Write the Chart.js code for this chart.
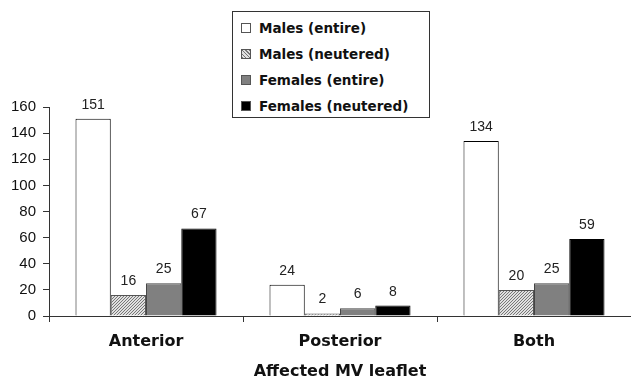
<!DOCTYPE html>
<html lang="en">
<head>
<meta charset="UTF-8">
<title>Affected MV leaflet</title>
<script src="https://cdn.jsdelivr.net/npm/chart.js"></script>
<style>
  * { box-sizing:border-box; margin:0; padding:0; }
  body { background:#fff; font-family:'DejaVu Sans', sans-serif; }
  #wrap { position:relative; width:631px; height:377px; }
  #legend {
    position:absolute; left:232px; top:11px; width:198px; height:107px;
    border:1px solid #333; background:#fff; padding:3px 0 0 8px;
    font-weight:bold; font-size:13.5px; color:#111;
  }
  #legend div { display:flex; align-items:center; height:26px; }
  #legend span.sw { width:10px; height:10px; margin-right:8px; border:1px solid #555; display:inline-block; }
</style>
</head>
<body>
<div id="wrap">
  <canvas id="chart" width="631" height="377"></canvas>
  <div id="legend"></div>
</div>
<script>
const categories = ['Anterior', 'Posterior', 'Both'];
const seriesNames = ['Males (entire)', 'Males (neutered)', 'Females (entire)', 'Females (neutered)'];
const malesEntire = [151, 24, 134];
const malesNeutered = [16, 2, 20];
const femalesEntire = [25, 6, 25];
const femalesNeutered = [67, 8, 59];
const yTicks = [0, 20, 40, 60, 80, 100, 120, 140, 160];

// fine hatched fill for the neutered males
function makeHatch() {
  const c = document.createElement('canvas');
  c.width = 3; c.height = 3;
  const g = c.getContext('2d');
  g.fillStyle = '#e0e0e0';
  g.fillRect(0, 0, 3, 3);
  g.fillStyle = '#777';
  g.fillRect(2, 0, 1, 1);
  g.fillRect(1, 1, 1, 1);
  g.fillRect(0, 2, 1, 1);
  return g.createPattern(c, 'repeat');
}
const hatch = makeHatch();

const fills = ['#ffffff', hatch, '#808080', '#000000'];
const borders = ['#000000', '#555555', '#444444', '#000000'];
const swatchCss = ['#fff', 'repeating-linear-gradient(45deg,#777 0 1px,#e0e0e0 1px 2.5px)', '#808080', '#000'];

const valueLabels = {
  id: 'valueLabels',
  afterDatasetsDraw(chart) {
    const ctx = chart.ctx;
    ctx.save();
    ctx.font = '14px "Liberation Sans", Arial, sans-serif';
    ctx.fillStyle = '#222';
    ctx.textAlign = 'center';
    ctx.textBaseline = 'alphabetic';
    chart.data.datasets.forEach((ds, i) => {
      chart.getDatasetMeta(i).data.forEach((bar, j) => {
        ctx.fillText(ds.data[j], bar.x, bar.y - 10);
      });
    });
    ctx.restore();
  }
};

const datasets = [malesEntire, malesNeutered, femalesEntire, femalesNeutered].map((d, i) => ({
  label: seriesNames[i],
  data: d,
  backgroundColor: fills[i],
  borderColor: borders[i],
  borderWidth: 1
}));

new Chart(document.getElementById('chart'), {
  type: 'bar',
  data: { labels: categories, datasets },
  options: {
    responsive: false,
    animation: false,
    layout: { padding: { top: 107, right: 0, left: 4, bottom: 0 } },
    datasets: { bar: { barPercentage: 1, categoryPercentage: 0.727 } },
    plugins: { legend: { display: false }, tooltip: { enabled: false } },
    scales: {
      x: {
        grid: { drawOnChartArea: false, tickLength: 6, color: '#333' },
        border: { color: '#333' },
        ticks: { font: { size: 16, weight: 'bold', family: '"DejaVu Sans"', lineHeight: 1 }, color: '#111', padding: 12 },
        title: { display: true, text: 'Affected MV leaflet', font: { size: 16, weight: 'bold', family: '"DejaVu Sans"', lineHeight: 1 }, color: '#111', padding: { top: 2, bottom: -3 } }
      },
      y: {
        min: 0, max: 160,
        afterBuildTicks: axis => { axis.ticks = yTicks.map(v => ({ value: v })); },
        grid: { drawOnChartArea: false, tickLength: 6, color: '#333' },
        border: { color: '#333' },
        ticks: { font: { size: 15, family: '"Liberation Sans", Arial' }, color: '#111', padding: 7 }
      }
    }
  },
  plugins: [valueLabels]
});

const legend = document.getElementById('legend');
seriesNames.forEach((n, i) => {
  const row = document.createElement('div');
  row.innerHTML = '<span class="sw" style="background:' + swatchCss[i] + '"></span>' + n;
  legend.appendChild(row);
});
</script>
</body>
</html>
